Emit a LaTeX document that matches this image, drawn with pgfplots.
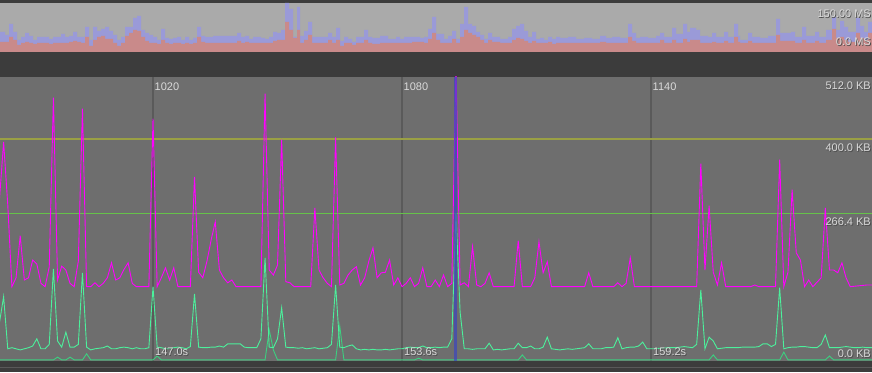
\documentclass[border=0pt]{standalone}
\usepackage{pgfplots}
\pgfplotsset{compat=1.18}
\usepackage{fontspec}
\setmainfont{Liberation Sans}
\definecolor{bgdark}{HTML}{3C3C3C}
\definecolor{maingray}{HTML}{6E6E6E}
\definecolor{topgray}{HTML}{AAAAAA}
\definecolor{topblue}{HTML}{9A9AD8}
\definecolor{topred}{HTML}{C98A8A}
\definecolor{gridgray}{HTML}{5A5A5A}
\definecolor{memmag}{HTML}{FF00FF}
\definecolor{memgreen}{HTML}{4CF09C}
\definecolor{memgreen2}{HTML}{3CD080}
\definecolor{refolive}{HTML}{9AA044}
\definecolor{refgreen}{HTML}{66C24A}
\definecolor{lbltext}{HTML}{DADADA}
\definecolor{selblue}{HTML}{3C46C0}
\newcommand{\lbl}[4]{%
  \node[anchor=#4,inner sep=0pt,text=black!70,font=\fontsize{11}{11}\selectfont] at (#1pt+0.8pt,#2pt-0.8pt) {#3};
  \node[anchor=#4,inner sep=0pt,text=lbltext,font=\fontsize{11}{11}\selectfont] at (#1pt,#2pt) {#3};}
\begin{document}
\begin{tikzpicture}
\useasboundingbox (0pt,0pt) rectangle (872pt,372pt);
\clip (0pt,0pt) rectangle (872pt,372pt);
\fill[bgdark] (0pt,0pt) rectangle (872pt,372pt);
\draw[color=black!65,line width=1pt] (0pt,5pt) -- (872pt,5pt);
\fill[topgray] (0pt,320pt) rectangle (872pt,369pt);
% ---------- top frame-time strip ----------
\begin{axis}[at={(0pt,320pt)},anchor=south west,scale only axis,
  width=872pt,height=49pt,xmin=0,xmax=872,ymin=0,ymax=49,clip=true,
  axis line style={draw=none},tick style={draw=none},
  xtick=\empty,ytick=\empty,
  axis background/.style={fill=topgray}]
\addplot[const plot,draw=none,fill=topblue] coordinates {
(0,20)(5,17)(9,28)(13,20)(17,12)(21,15)(25,19)(29,16)(33,12)(37,15)(49,13)(53,15)(61,18)(65,15)(69,16)(73,20)(77,15)(85,25)(89,12)(93,25)(97,21)(101,23)(105,25)(109,21)(113,17)(117,12)(121,15)(125,25)(133,34)(137,36)(141,22)(145,19)(149,17)(153,15)(157,12)(161,23)(165,14)(169,13)(173,14)(177,15)(181,12)(185,15)(189,12)(193,14)(197,25)(201,16)(205,15)(213,16)(237,19)(241,15)(245,16)(249,13)(253,15)(261,14)(265,13)(269,15)(273,20)(277,19)(281,22)(285,49)(289,43)(293,15)(297,45)(300,16)(304,21)(308,30)(312,15)(328,19)(332,15)(336,24)(340,11)(344,15)(348,13)(352,10)(356,15)(364,22)(368,15)(372,14)(380,16)(388,13)(396,15)(400,13)(404,15)(420,14)(424,15)(428,23)(432,35)(436,18)(444,13)(448,16)(452,21)(456,13)(460,28)(464,45)(468,28)(472,26)(476,20)(480,17)(484,13)(488,19)(492,15)(500,13)(508,15)(512,23)(516,26)(520,28)(524,21)(528,15)(532,20)(536,13)(540,14)(544,12)(548,15)(552,13)(556,15)(560,14)(568,15)(576,13)(584,14)(592,13)(600,16)(606,14)(612,15)(620,14)(628,28)(632,19)(636,14)(640,15)(648,14)(656,16)(660,19)(664,15)(672,24)(676,18)(683,28)(687,20)(690,24)(696,22)(700,16)(708,15)(712,19)(716,15)(724,20)(728,15)(734,28)(738,16)(740,12)(748,19)(752,15)(760,14)(768,16)(776,33)(780,19)(791,20)(795,15)(802,25)(806,16)(815,20)(819,15)(826,22)(832,35)(836,22)(840,31)(844,25)(848,20)(856,34)(860,26)(864,20)(868,30)(872,30)} \closedcycle;
\addplot[const plot,draw=none,fill=topred] coordinates {
(0,10)(9,15)(13,12)(17,7)(21,9)(25,10)(29,9)(33,8)(37,9)(49,8)(53,9)(69,10)(73,11)(77,10)(81,9)(85,15)(89,6)(93,12)(97,15)(101,16)(105,13)(113,9)(117,6)(121,9)(125,16)(129,19)(133,22)(137,21)(141,15)(145,11)(149,9)(157,8)(161,12)(165,9)(169,8)(173,9)(181,8)(185,9)(189,8)(193,9)(197,15)(201,10)(205,9)(237,11)(241,9)(245,10)(249,9)(273,11)(277,12)(285,30)(289,22)(293,14)(297,22)(300,9)(304,12)(308,17)(312,9)(328,12)(332,9)(336,12)(340,6)(344,9)(352,7)(356,9)(364,12)(368,9)(372,8)(380,9)(412,10)(424,9)(428,13)(432,19)(436,12)(440,9)(452,13)(456,9)(460,15)(464,22)(468,19)(472,17)(476,15)(480,12)(484,9)(488,12)(492,10)(500,9)(512,12)(516,14)(520,13)(524,11)(528,9)(532,11)(536,9)(548,10)(552,8)(556,9)(600,10)(606,9)(628,15)(632,11)(636,9)(660,12)(664,9)(672,12)(676,9)(683,13)(687,10)(690,12)(700,9)(712,10)(716,9)(724,11)(728,9)(734,15)(738,10)(740,9)(748,11)(752,9)(776,17)(780,11)(795,9)(802,12)(806,9)(815,11)(819,9)(826,12)(832,23)(836,14)(840,15)(844,12)(848,10)(856,19)(860,14)(864,12)(868,19)(872,19)} \closedcycle;
\end{axis}
% ---------- main memory chart ----------
\begin{axis}[at={(0pt,11pt)},anchor=south west,scale only axis,
  width=872pt,height=284pt,xmin=983.13,xmax=1193.25,ymin=0,ymax=512,
  axis line style={draw=none},tick style={draw=none},major tick length=0pt,
  axis background/.style={fill=maingray},
  xtick={1020,1080,1140},xticklabels={1020,1080,1140},
  xmajorgrids,grid style={gridgray,line width=1.5pt},
  xticklabel pos=upper,
  xticklabel style={anchor=north west,inner sep=0pt,xshift=1.5pt,yshift=-5.5pt,text=lbltext,font=\fontsize{11}{11}\selectfont},
  ytick=\empty,clip=true]
\addplot[refolive,line width=1.3pt] coordinates {(983,400)(1194,400)};
\addplot[refgreen,line width=1.2pt] coordinates {(983,266.4)(1194,266.4)};
% lower green series
\addplot[memgreen2,line width=0.9pt,mark=none] coordinates {
(983,2)(996,2)(997,7)(998,2)(999,2)(1000,7)(1001,2)(1003,2)(1004,13)(1005,2)(1020,2)(1021,9)(1022,2)(1047,2)(1048,56)(1049,20)(1050,2)(1064,2)(1065,63)(1066,2)(1083,2)(1084,5)(1085,2)(1108,2)(1109,11)(1110,2)(1154,2)(1155,11)(1156,2)(1171,2)(1172,16)(1173,2)(1182,2)(1183,9)(1184,2)(1194,2)};
% upper green series
\addplot[memgreen,line width=0.9pt,mark=none] coordinates {
(983,69)(984,116)(985,22)(986,24)(987,22)(988,20)(989,22)(990,24)(991,27)(992,40)(993,22)(994,22)(995,30)(996,166)(997,36)(998,25)(999,52)(1000,25)(1001,25)(1002,30)(1003,159)(1004,25)(1005,20)(1006,22)(1007,23)(1008,24)(1009,27)(1010,22)(1011,22)(1012,24)(1013,25)(1014,24)(1015,22)(1016,24)(1017,22)(1018,22)(1019,24)(1020,134)(1021,25)(1022,24)(1023,22)(1024,22)(1025,24)(1026,25)(1027,24)(1028,22)(1029,26)(1030,121)(1031,25)(1032,24)(1033,24)(1034,25)(1035,25)(1036,27)(1037,25)(1038,31)(1039,31)(1040,31)(1041,31)(1042,25)(1043,24)(1044,24)(1045,24)(1046,40)(1047,186)(1048,25)(1049,24)(1050,40)(1051,96)(1052,25)(1053,24)(1054,24)(1055,23)(1056,24)(1057,22)(1058,23)(1059,24)(1060,22)(1061,23)(1062,24)(1063,30)(1064,137)(1065,25)(1066,24)(1067,27)(1068,29)(1069,22)(1070,20)(1071,21)(1072,20)(1073,21)(1074,20)(1075,20)(1076,21)(1077,20)(1078,21)(1079,22)(1080,22)(1081,24)(1082,25)(1083,24)(1084,24)(1085,27)(1086,24)(1087,24)(1088,25)(1089,24)(1090,25)(1091,25)(1092,40)(1093,266)(1094,88)(1095,22)(1096,22)(1097,21)(1098,22)(1099,22)(1100,22)(1101,32)(1102,20)(1103,21)(1104,20)(1105,21)(1106,22)(1107,22)(1108,32)(1109,24)(1110,24)(1111,27)(1112,22)(1113,22)(1114,25)(1115,43)(1116,22)(1117,21)(1118,20)(1119,21)(1120,22)(1121,21)(1122,22)(1123,23)(1124,24)(1125,31)(1126,22)(1127,22)(1128,22)(1129,24)(1130,24)(1131,25)(1132,42)(1133,22)(1134,24)(1135,25)(1136,25)(1137,27)(1138,34)(1139,22)(1140,22)(1141,22)(1142,23)(1143,23)(1144,24)(1145,24)(1146,24)(1147,25)(1148,26)(1149,25)(1150,24)(1151,30)(1152,128)(1153,22)(1154,43)(1155,36)(1156,22)(1157,23)(1158,24)(1159,24)(1160,24)(1161,24)(1162,25)(1163,25)(1164,25)(1165,25)(1166,26)(1167,31)(1168,31)(1169,26)(1170,30)(1171,132)(1172,22)(1173,24)(1174,25)(1175,25)(1176,26)(1177,26)(1178,25)(1179,24)(1180,24)(1181,30)(1182,47)(1183,24)(1184,24)(1185,24)(1186,25)(1187,26)(1188,25)(1189,24)(1190,24)(1191,25)(1192,24)(1193,24)(1194,24)};
% magenta series
\addplot[memmag,line width=0.9pt,mark=none] coordinates {
(983,291)(984,395)(985,282)(986,134)(987,150)(988,226)(989,146)(990,150)(991,182)(992,175)(993,140)(994,134)(995,170)(996,475)(997,146)(998,171)(999,164)(1000,140)(1001,134)(1002,180)(1003,455)(1004,134)(1005,134)(1006,141)(1007,134)(1008,140)(1009,150)(1010,177)(1011,146)(1012,150)(1013,165)(1014,177)(1015,140)(1016,134)(1019,134)(1020,437)(1021,134)(1022,150)(1023,168)(1024,146)(1025,168)(1026,134)(1029,134)(1030,332)(1031,160)(1032,150)(1033,180)(1034,218)(1035,251)(1036,164)(1037,150)(1038,141)(1039,146)(1040,134)(1046,134)(1047,482)(1048,164)(1049,155)(1050,173)(1051,399)(1052,143)(1053,141)(1054,134)(1058,134)(1059,276)(1060,164)(1061,150)(1062,140)(1063,134)(1064,403)(1065,137)(1066,140)(1067,155)(1068,164)(1069,170)(1070,137)(1071,150)(1072,180)(1073,204)(1074,150)(1075,159)(1076,160)(1077,182)(1078,137)(1079,150)(1080,134)(1081,140)(1082,150)(1083,134)(1084,140)(1085,168)(1086,134)(1087,134)(1088,146)(1089,134)(1090,155)(1091,134)(1092,140)(1093,530)(1094,137)(1095,141)(1096,134)(1097,206)(1098,137)(1099,134)(1100,140)(1101,159)(1102,134)(1107,134)(1108,217)(1109,134)(1111,134)(1112,150)(1113,215)(1114,159)(1115,179)(1116,134)(1124,134)(1125,159)(1126,134)(1131,134)(1132,141)(1133,134)(1134,140)(1135,186)(1136,134)(1151,134)(1152,356)(1153,164)(1154,280)(1155,160)(1156,137)(1157,177)(1158,134)(1164,134)(1165,137)(1166,134)(1170,134)(1171,363)(1172,134)(1173,160)(1174,309)(1175,195)(1176,182)(1177,134)(1178,146)(1179,134)(1181,150)(1182,276)(1183,164)(1184,164)(1185,159)(1186,177)(1187,150)(1188,134)(1192,137)(1193,137)(1194,137)};
% selected frame
\addplot[selblue,opacity=0.7,line width=3pt,mark=none] coordinates {(1093,0)(1093,512)};
\end{axis}
% labels
\lbl{871}{358}{150.00 MS}{east}
\lbl{871}{330}{0.0 MS}{east}
\lbl{871}{286}{512.0 KB}{east}
\lbl{871}{224}{400.0 KB}{east}
\lbl{871}{150}{266.4 KB}{east}
\lbl{871}{18}{0.0 KB}{east}
\lbl{155}{20}{147.0s}{west}
\lbl{404}{20}{153.6s}{west}
\lbl{653}{20}{159.2s}{west}
\end{tikzpicture}
\end{document}
